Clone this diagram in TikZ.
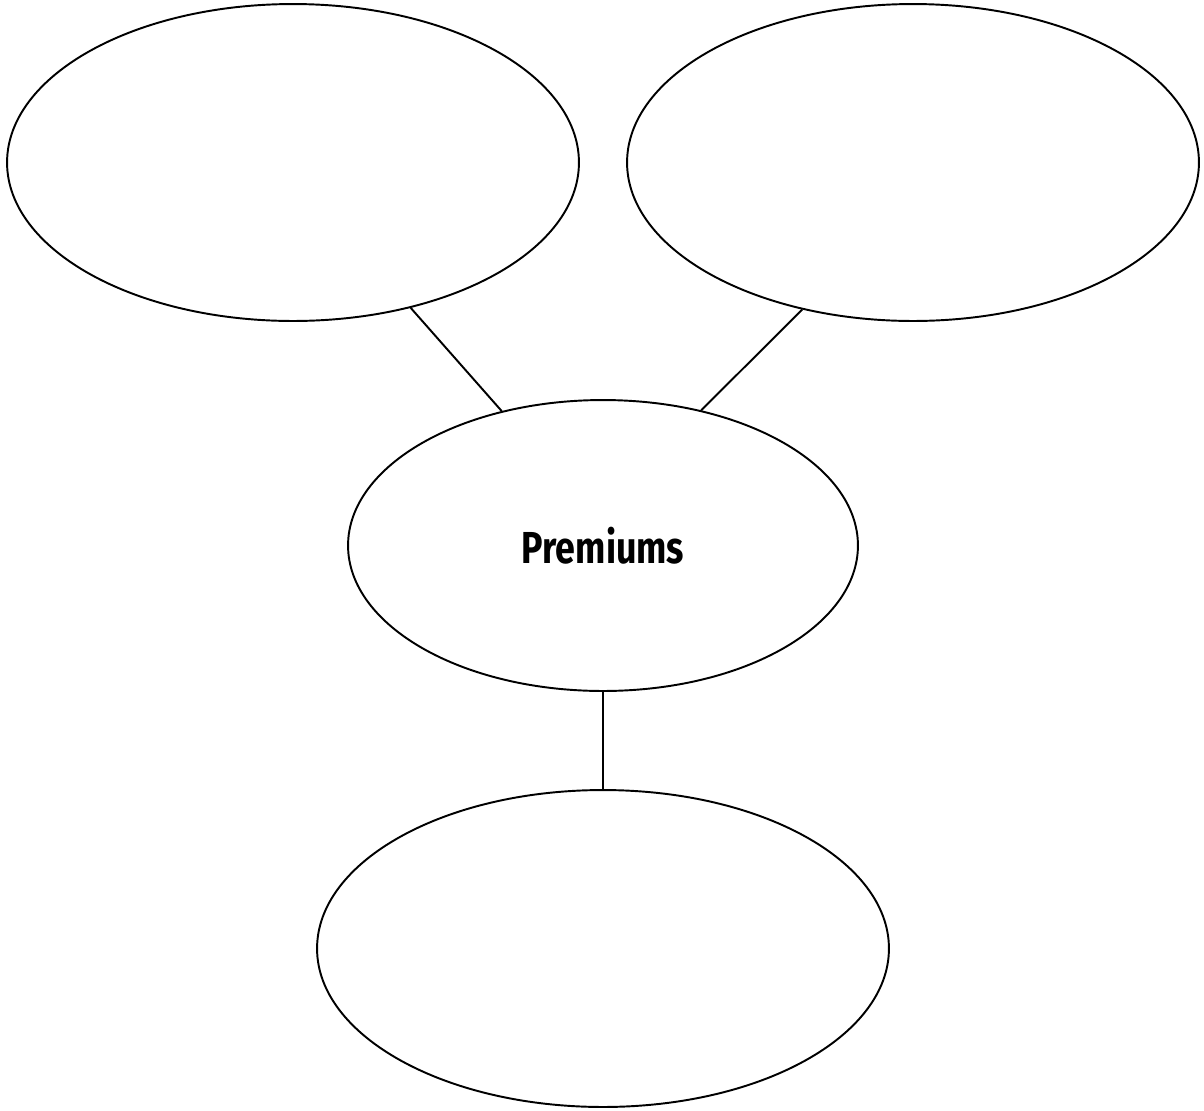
\documentclass[tikz,border=0pt]{standalone}
\usepackage{fontspec}
\setmainfont{Fira Sans}
\usetikzlibrary{shapes.geometric}
\tikzset{
  bulle/.style={draw, ellipse, line width=1.1pt, inner sep=0pt,
                minimum width=11.44cm, minimum height=6.34cm},
  bullemid/.style={bulle, minimum width=10.2cm, minimum height=5.82cm}
}
\begin{document}
\begin{tikzpicture}[x=0.02cm, y=-0.02cm]
\useasboundingbox (0,0) rectangle (1204,1110);
  \node[bulle] (gauche) at (293,162.5) {};
  \node[bulle] (droite) at (913,162.5) {};
  \node[bullemid] (prem) at (603,545.5)
             {\scalebox{0.8}[1]{\fontsize{25.5}{30}\selectfont\bfseries Premiums}};
  \node[bulle] (bas) at (603,948.5) {};
   \draw[line width=1.1pt] (gauche.-51) -- (prem.127.4);
   \draw[line width=1.1pt] (droite.233.5) -- (prem.54.9);
   \draw[line width=1.1pt] (prem.south) -- (bas.north);
\end{tikzpicture}
\end{document}
